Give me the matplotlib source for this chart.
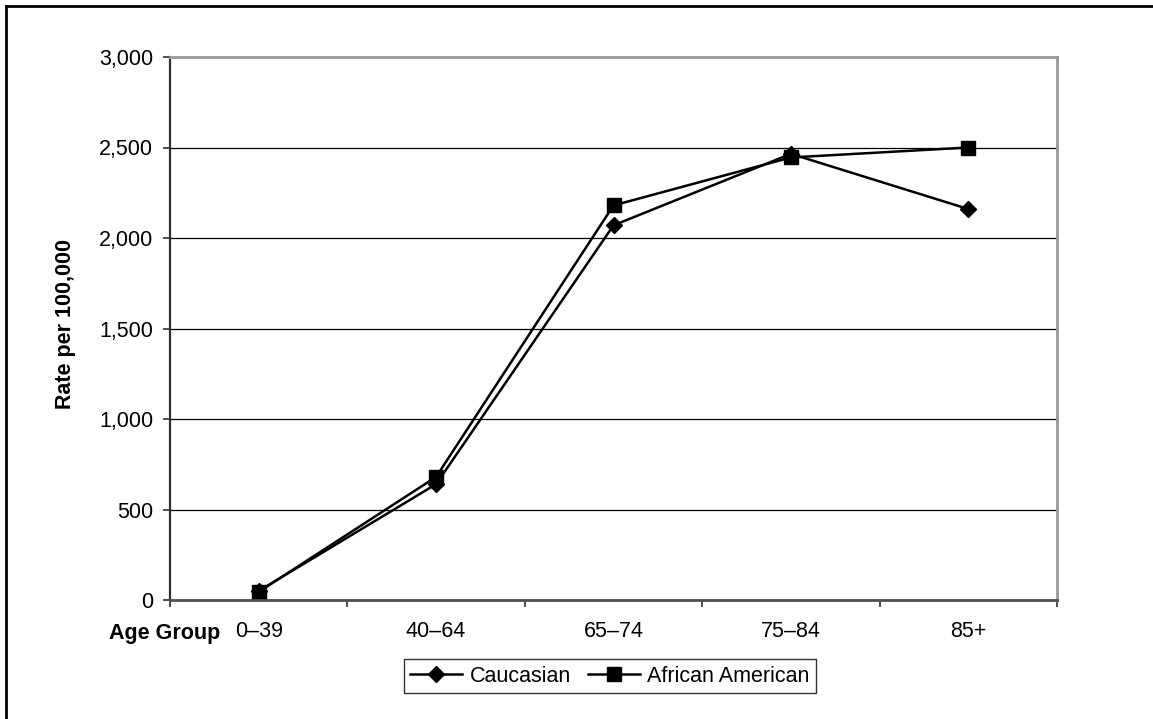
import matplotlib
matplotlib.use("Agg")
import matplotlib.pyplot as plt
from matplotlib.lines import Line2D
from matplotlib.ticker import FuncFormatter

age_groups = ["0\u201339", "40\u201364", "65\u201374", "75\u201384", "85+"]
caucasian = [50, 640, 2070, 2465, 2160]
african_american = [45, 680, 2180, 2445, 2500]

plt.rcParams["font.family"] = ["Liberation Sans", "DejaVu Sans"]
FS = 15.5

W, H = 1153, 719
fig = plt.figure(figsize=(W / 100, H / 100), dpi=100)
ax = fig.add_axes([170 / W, 1 - 600 / H, (1057 - 170) / W, (600 - 57) / H])

x = [i + 0.5 for i in range(len(age_groups))]
ax.plot(x, caucasian, color="black", lw=1.8, marker="D", ms=8,
        label="Caucasian", clip_on=False)
ax.plot(x, african_american, color="black", lw=1.8, marker="s", ms=10.5,
        label="African American", clip_on=False)

ax.set_xlim(0, len(age_groups))
ax.set_ylim(0, 3000)
ax.set_yticks(range(0, 3001, 500))
ax.yaxis.set_major_formatter(FuncFormatter(lambda v, p: f"{v:,.0f}"))
ax.grid(axis="y", color="black", lw=0.9)
ax.set_axisbelow(True)

# category boundaries get the tick marks, centres get the labels
ax.set_xticks(range(len(age_groups) + 1))
ax.set_xticklabels([])
ax.set_xticks(x, minor=True)
ax.set_xticklabels(age_groups, minor=True)
ax.tick_params(axis="x", which="major", direction="out", length=5, width=1.2,
               color="#303030")
ax.tick_params(axis="x", which="minor", length=0, pad=15, labelsize=FS)
ax.tick_params(axis="y", direction="out", length=5, width=1.2, color="#303030",
               labelsize=FS, pad=7)

for side in ("top", "right"):
    ax.spines[side].set_color("#999999")
    ax.spines[side].set_linewidth(2)
ax.spines["left"].set_color("#303030")
ax.spines["left"].set_linewidth(1.6)
ax.spines["bottom"].set_color("#505050")
ax.spines["bottom"].set_linewidth(2)

fig.text(65 / W, 1 - 324 / H, "Rate per 100,000", rotation=90, ha="center",
         va="center", fontsize=FS, fontweight="bold")
fig.text(220 / W, 1 - 633 / H, "Age Group", ha="right", va="center",
         fontsize=FS, fontweight="bold")

leg = fig.legend(loc="center", bbox_to_anchor=(610 / W, 1 - 676 / H), ncol=2,
                 frameon=True, fancybox=False, fontsize=FS, handlelength=2.4,
                 handletextpad=0.35, columnspacing=0.8, borderpad=0.3,
                 borderaxespad=0)
leg.get_frame().set_edgecolor("black")
leg.get_frame().set_linewidth(1.0)

# outer frame: only the top and left edges fall inside the picture
fig.add_artist(Line2D([6 / W, 6 / W], [0, 1 - 6 / H], color="black", lw=2,
                      transform=fig.transFigure))
fig.add_artist(Line2D([6 / W, 1], [1 - 6 / H, 1 - 6 / H], color="black", lw=2,
                      transform=fig.transFigure))

fig.savefig("out.png", dpi=100)
